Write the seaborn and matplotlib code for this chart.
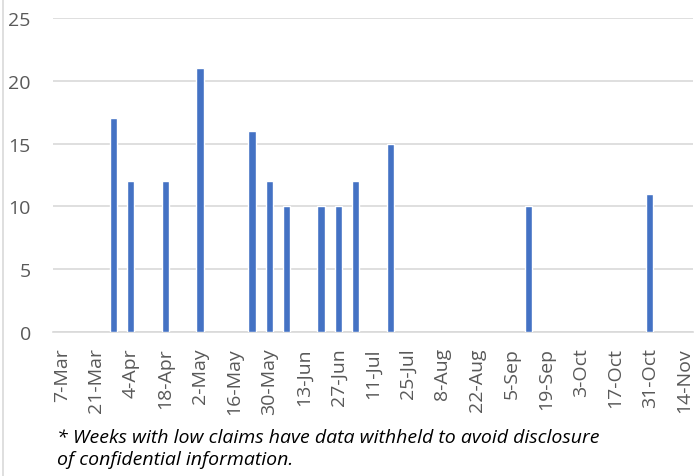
import matplotlib
matplotlib.use("Agg")
import matplotlib.pyplot as plt
import matplotlib.dates as mdates
import matplotlib.lines as mlines
import seaborn as sns
import pandas as pd
import numpy as np

# Data (week-ending dates, 2021)
week_dates = ["2021-03-28", "2021-04-04", "2021-04-18", "2021-05-02", "2021-05-23",
              "2021-05-30", "2021-06-06", "2021-06-20", "2021-06-27", "2021-07-04",
              "2021-07-18", "2021-09-12", "2021-10-31"]
claims = [17, 12, 12, 21, 16, 12, 10, 10, 10, 12, 15, 10, 11]

tick_dates = pd.date_range("2021-03-07", "2021-11-14", freq="14D")
tick_labels = [f"{d.day}-{d.strftime('%b')}" for d in tick_dates]
y_ticks = [0, 5, 10, 15, 20, 25]
footnote = ("* Weeks with low claims have data withheld to avoid disclosure\n"
            "of confidential information.")

sns.set_theme(style="white")
plt.rcParams["font.family"] = ["Open Sans", "DejaVu Sans"]

df = pd.DataFrame({"x": mdates.date2num(pd.to_datetime(week_dates)), "claims": claims})

fig = plt.figure(figsize=(6.96, 4.77), dpi=100)
ax = fig.add_axes([53/696, 1-333/477, (693-53)/696, (333-19)/477])

sns.barplot(data=df, x="x", y="claims", native_scale=True, color="#4472C4",
            saturation=1, width=0.42, ax=ax, zorder=3)

x0 = mdates.date2num(tick_dates[0]) - 3.5
x1 = mdates.date2num(tick_dates[-1]) + 3.5
ax.set_xlim(x0, x1)
ax.set_ylim(0, 25)
ax.set_xticks(mdates.date2num(tick_dates))
ax.set_xticklabels(tick_labels, rotation=90, ha="center", va="top")
ax.set_yticks(y_ticks)
ax.set_xlabel("")
ax.set_ylabel("")
ax.grid(axis="y", color="#d9d9d9", linewidth=1.2, zorder=0)
ax.grid(axis="x", visible=False)
for s in ["top", "right", "left"]:
    ax.spines[s].set_visible(False)
ax.spines["bottom"].set_color("#d9d9d9")
ax.spines["bottom"].set_linewidth(1.2)
ax.tick_params(axis="both", length=0, labelsize=14, labelcolor="#595959")
ax.tick_params(axis="x", pad=11)
ax.tick_params(axis="y", pad=16)

fig.text(57/696, 1-449/477, footnote, fontsize=14, fontstyle="italic",
         color="black", ha="left", va="center", linespacing=1.3)

fig.add_artist(mlines.Line2D([3/696, 3/696], [0, 1], transform=fig.transFigure,
                             color="#d9d9d9", linewidth=1.2))

fig.savefig("out.png", dpi=100)
